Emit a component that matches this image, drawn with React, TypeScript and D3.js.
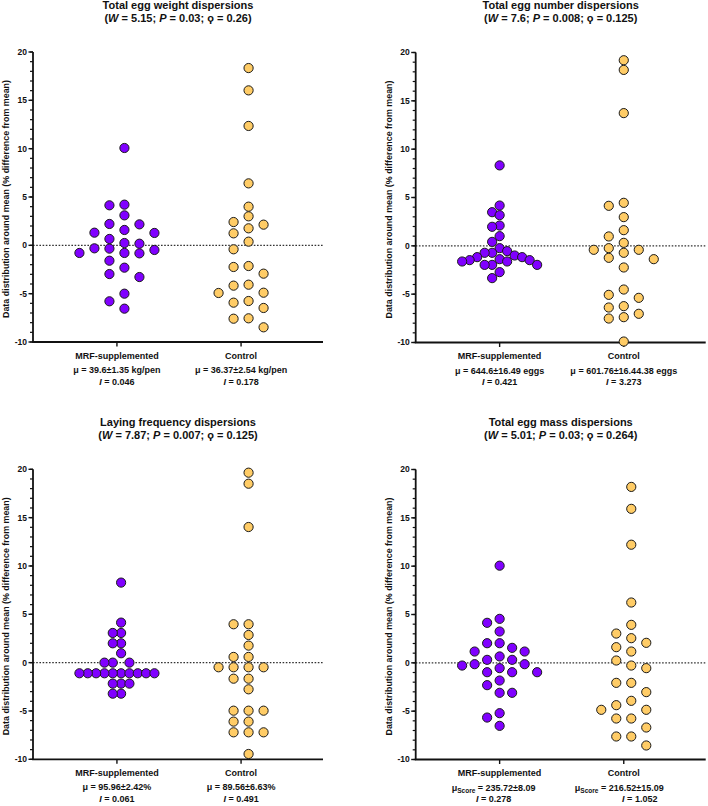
import { scaleLinear, scalePoint, range, extent } from "d3";

// categories and axis ticks
const categories = ["MRF-supplemented", "Control"];
const yMajorTicks = [-10, -5, 0, 5, 10, 15, 20];
const yMinorTicks = range(-10, 21, 1);

// % difference from mean
const weightMRF = [10.07, 4.21, 4.14, 3.1, 2.21, 2.17, 1.59, 1.31, 1.28, 0.66, 0.24, 0.17, -0.31, -0.34, -0.48, -0.79, -0.79, -0.83, -1.59, -2.31, -2.97, -3.28, -5.0, -5.79, -6.55];
const weightControl = [18.34, 16.03, 12.35, 6.41, 4.0, 3.0, 2.41, 2.14, 1.76, 1.24, 0.38, -0.41, -2.14, -2.24, -2.93, -4.07, -4.17, -4.9, -4.93, -5.76, -5.93, -6.48, -7.55, -7.59, -8.48];

const numberMRF = [8.32, 4.17, 3.48, 3.17, 2.1, 1.97, 1.0, 0.41, -0.24, -0.55, -0.72, -0.72, -1.0, -1.17, -1.17, -1.38, -1.48, -1.48, -1.62, -1.62, -1.97, -1.97, -1.97, -2.72, -3.34];
const numberControl = [19.2, 18.2, 13.73, 4.45, 4.14, 2.97, 1.62, 0.97, 0.31, -0.24, -0.41, -0.41, -0.72, -1.24, -1.38, -2.24, -4.52, -5.07, -5.38, -6.24, -6.38, -7.03, -7.38, -7.52, -9.9];

const layingMRF = [8.28, 4.14, 3.07, 3.07, 2.0, 2.0, 0.97, 0, 0, 0, -1.1, -1.1, -1.1, -1.1, -1.1, -1.1, -1.1, -1.1, -1.1, -1.1, -2.17, -2.17, -2.17, -3.21, -3.21];
const layingControl = [19.65, 18.51, 14.03, 3.97, 3.97, 2.86, 1.76, 0.59, 0.59, -0.48, -0.48, -0.48, -0.48, -1.66, -1.66, -2.76, -4.97, -4.97, -4.97, -6.1, -6.1, -7.21, -7.21, -7.21, -9.45];

const massMRF = [10.05, 4.55, 4.14, 3.24, 2.03, 2.03, 1.55, 1.17, 1.17, 0.66, 0.31, 0.31, -0.14, -0.14, -0.28, -0.55, -0.97, -0.97, -0.97, -1.83, -2.31, -3.1, -3.1, -5.21, -5.66, -6.52];
const massControl = [18.2, 15.93, 12.22, 6.24, 3.93, 3.03, 2.55, 2.07, 1.62, 1.17, 0.24, -0.28, -0.55, -2.07, -2.07, -3.03, -3.93, -4.38, -4.86, -4.86, -5.76, -5.76, -6.69, -7.62, -7.62, -8.55];

// titles, test statistics (W, P, phi) and group summaries
const titles = ["Total egg weight dispersions", "Total egg number dispersions", "Laying frequency dispersions", "Total egg mass dispersions"];
const stats = [
  ["5.15", "0.03", "0.26"],
  ["7.6", "0.008", "0.125"],
  ["7.87", "0.007", "0.125"],
  ["5.01", "0.03", "0.264"],
];
const means = [
  ["39.6±1.35 kg/pen", "36.37±2.54 kg/pen"],
  ["644.6±16.49 eggs", "601.76±16.44.38 eggs"],
  ["95.96±2.42%", "89.56±6.63%"],
  ["235.72±8.09", "216.52±15.09"],
];
const indexes = [
  ["0.046", "0.178"],
  ["0.421", "3.273"],
  ["0.061", "0.491"],
  ["0.278", "1.052"],
];

const seriesByPanel = [
  [weightMRF, weightControl],
  [numberMRF, numberControl],
  [layingMRF, layingControl],
  [massMRF, massControl],
];

const width = 708;
const height = 806;
const plotW = 290;
const plotH = 290;
const origins = [
  { x: 33, y: 52 },
  { x: 415.7, y: 52.5 },
  { x: 33, y: 469.3 },
  { x: 415.7, y: 469.5 },
];
const colors = ["#8000ff", "#ffcc66"];
const font = "'Liberation Sans', Arial, 'DejaVu Sans', sans-serif";
const r = 4.6;

// column scatter: each dot takes the free column nearest the middle,
// a column is blocked when a dot in it sits closer than `gap` px vertically
function columns(values: number[], y: (v: number) => number, gap: number) {
  const pts = values
    .map((v) => ({ v, py: y(v), col: 0 }))
    .sort((a, b) => a.py - b.py);
  const order = [0, ...range(1, 20).flatMap((k) => [-k, k])];
  const placed: { py: number; col: number }[] = [];
  pts.forEach((p) => {
    const col = order.find((c) =>
      placed.every((q) => q.col !== c || Math.abs(q.py - p.py) >= gap)
    );
    p.col = col ?? 0;
    placed.push({ py: p.py, col: p.col });
  });
  const [lo, hi] = extent(pts, (p) => p.col) as [number, number];
  const mid = (lo + hi) / 2;
  const step = hi > lo ? Math.min(15, 75 / (hi - lo)) : 0;
  return pts.map((p) => ({ v: p.v, py: p.py, dx: (p.col - mid) * step }));
}

const Panel = ({ i }: { i: number }) => {
  const o = origins[i];
  const y = scaleLinear().domain([-10, 20]).range([plotH, 0]);
  const x = scalePoint<string>().domain(categories).range([2, plotW]).padding(0.66);
  const cx = plotW / 2;
  const [w, p, phi] = stats[i];

  return (
    <g transform={`translate(${o.x}, ${o.y})`} fontFamily={font} fontWeight="bold" fill="#111">
      <text x={cx} y={-43.5} textAnchor="middle" fontSize={11}>
        {titles[i]}
      </text>
      <text x={cx} y={-30.5} textAnchor="middle" fontSize={11}>
        (<tspan fontStyle="italic">W</tspan> = {w}; <tspan fontStyle="italic">P</tspan> = {p}; ϙ = {phi})
      </text>

      <text
        transform={`translate(-23.8, ${plotH / 2 + 2}) rotate(-90)`}
        textAnchor="middle"
        fontSize={9}
        textLength={238}
        lengthAdjust="spacingAndGlyphs"
      >
        Data distribution around mean (% difference from mean)
      </text>

      <line x1={0} x2={plotW} y1={y(0)} y2={y(0)} stroke="#333" strokeWidth={1.2} strokeDasharray="1.6 1.6" />

      {yMinorTicks.map((t) => (
        <line key={t} x1={-3} x2={0} y1={y(t)} y2={y(t)} stroke="#111" strokeWidth={1.2} />
      ))}
      {yMajorTicks.map((t) => (
        <g key={t} transform={`translate(0, ${y(t)})`}>
          <line x1={-4.5} x2={0} stroke="#111" strokeWidth={1.4} />
          <text x={-6} dy="0.34em" textAnchor="end" fontSize={8.5}>
            {String(t)}
          </text>
        </g>
      ))}
      <line x1={0} x2={0} y1={y(20)} y2={y(-10)} stroke="#111" strokeWidth={1.8} />
      <line x1={-0.9} x2={plotW} y1={y(-10)} y2={y(-10)} stroke="#111" strokeWidth={1.8} />

      {categories.map((c, k) => {
        const xc = x(c) ?? 0;
        const pts = columns(seriesByPanel[i][k], (v) => y(v), 9.5);
        const score = i === 3;
        const meanDx = score ? (k === 0 ? -6 : -4.5) : 0;
        const idxDx = score ? (k === 0 ? -6 : 16) : 0;
        return (
          <g key={c}>
            <line x1={xc} x2={xc} y1={y(-10)} y2={y(-10) + 4.5} stroke="#111" strokeWidth={1.4} />
            {pts.map((d, j) => (
              <circle
                key={j}
                cx={xc + d.dx}
                cy={d.py}
                r={r}
                fill={colors[k]}
                stroke="#1a1a1a"
                strokeWidth={1}
              />
            ))}
            <text x={xc} y={plotH + 16.5} textAnchor="middle" fontSize={9}>
              {c}
            </text>
            <text x={xc + meanDx} y={plotH + 31} textAnchor="middle" fontSize={9}>
              μ
              {score ? (
                <tspan fontSize={6.5} dy={2}>
                  Score
                </tspan>
              ) : null}
              <tspan dy={score ? -2 : 0}>{` = ${means[i][k]}`}</tspan>
            </text>
            <text x={xc + idxDx} y={plotH + 42.5} textAnchor="middle" fontSize={9}>
              <tspan fontStyle="italic">I</tspan> = {indexes[i][k]}
            </text>
          </g>
        );
      })}
    </g>
  );
};

export default function App() {
  return (
    <svg
      width={width}
      height={height}
      style={{ position: "absolute", left: 0, top: 0, background: "#fff" }}
    >
      <rect width={width} height={height} fill="#fff" />
      {titles.map((_, i) => (
        <Panel key={i} i={i} />
      ))}
    </svg>
  );
}
